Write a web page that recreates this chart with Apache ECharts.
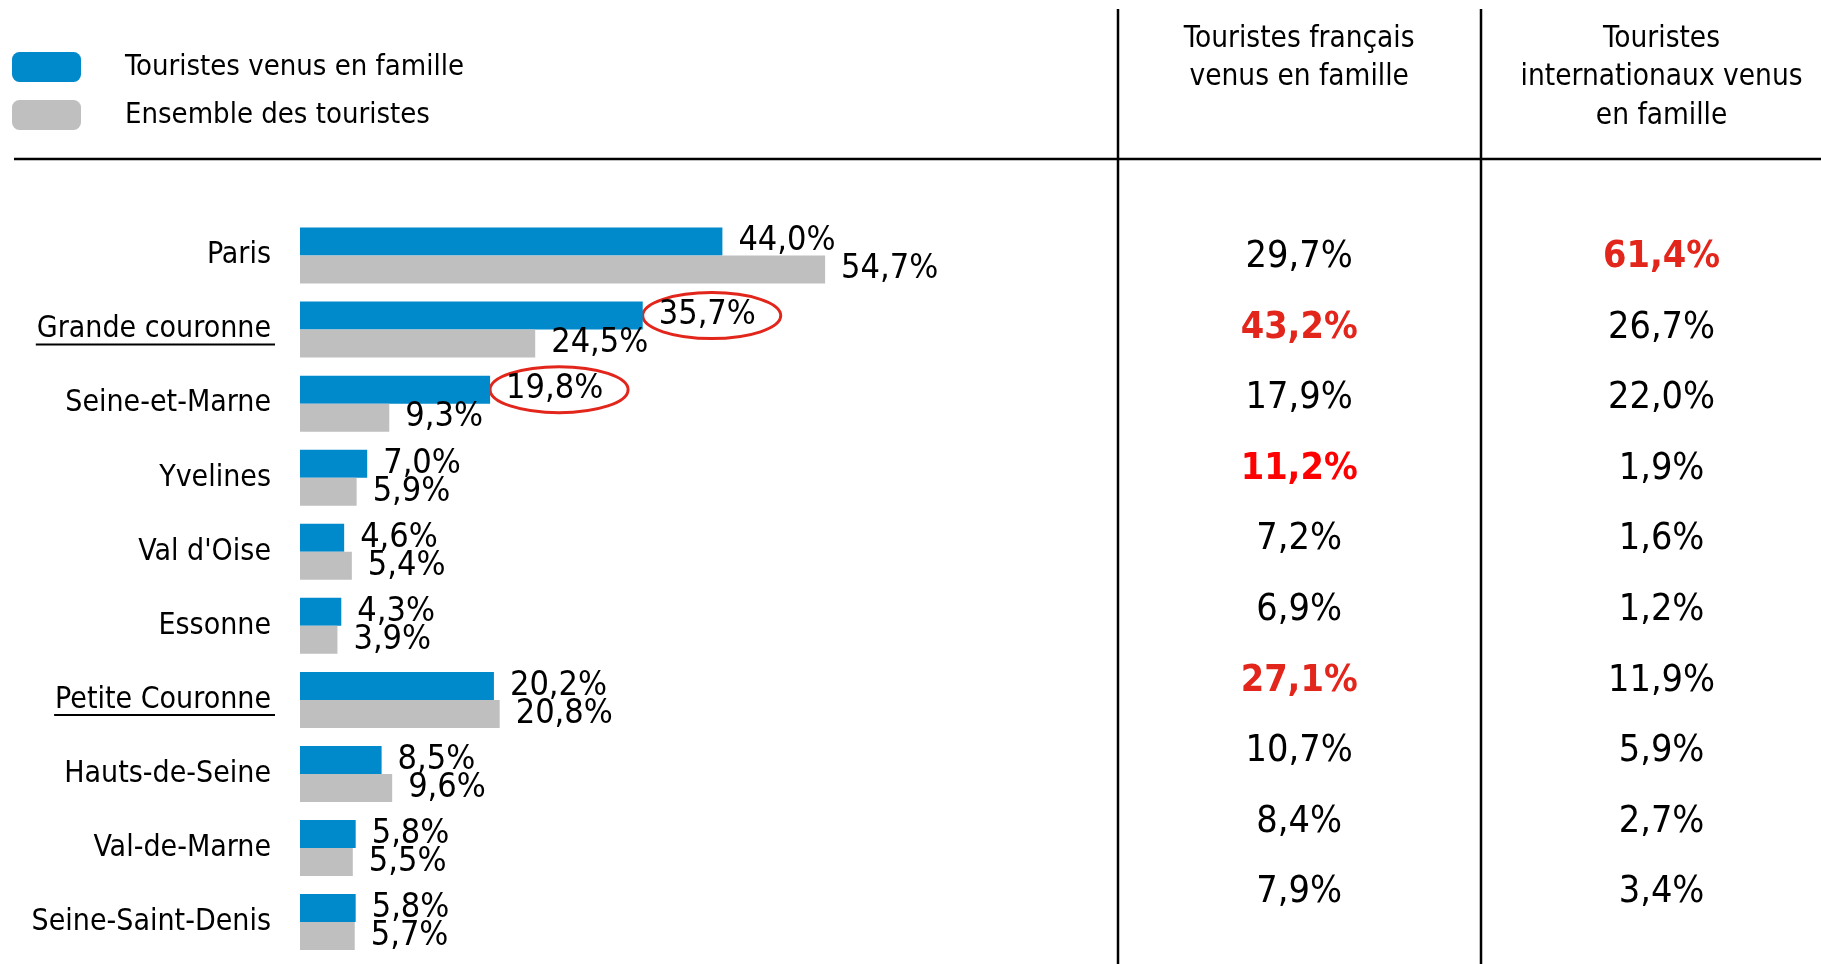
<!DOCTYPE html>
<html>
<head>
<meta charset="utf-8">
<script src="https://cdn.jsdelivr.net/npm/echarts@6/dist/echarts.min.js"></script>
<style>
  html, body { margin: 0; padding: 0; background: #fff; }
  #main { width: 1821px; height: 964px; }
</style>
</head>
<body>
<div id="main"></div>
<script>
// données
var categories = ['Paris', 'Grande couronne', 'Seine-et-Marne', 'Yvelines', "Val d'Oise", 'Essonne', 'Petite Couronne', 'Hauts-de-Seine', 'Val-de-Marne', 'Seine-Saint-Denis'];
var famille = [44.0, 35.7, 19.8, 7.0, 4.6, 4.3, 20.2, 8.5, 5.8, 5.8];
var ensemble = [54.7, 24.5, 9.3, 5.9, 5.4, 3.9, 20.8, 9.6, 5.5, 5.7];
var francais = [29.7, 43.2, 17.9, 11.2, 7.2, 6.9, 27.1, 10.7, 8.4, 7.9];
var internationaux = [61.4, 26.7, 22.0, 1.9, 1.6, 1.2, 11.9, 5.9, 2.7, 3.4];
var columns = ['Touristes français\nvenus en famille', 'Touristes\ninternationaux venus\nen famille'];
var seriesNames = ['Touristes venus en famille', 'Ensemble des touristes'];
var underlined = [1, 6];   // sous-totaux soulignés
var circled = [1, 2];      // valeurs entourées en rouge
var redFr = [1, 3, 6];
var redIntl = [0];

var FONT = "'DejaVu Sans Condensed', 'Liberation Sans Narrow', 'DejaVu Sans', sans-serif";
var BLUE = '#0089cb';
var GREY = '#bfbfbf';
var RED = '#e2261b';

function pct(v) {
  return v.toFixed(1).replace('.', ',') + '%';
}

function cell(col, values, reds) {
  return values.map(function (v, i) {
    var hot = reds.indexOf(i) >= 0;
    return {
      value: [col, i, v],
      label: {
        color: hot ? (col === 0 && i === 3 ? '#ff0000' : RED) : '#000',
        fontWeight: hot ? 'bold' : 'normal'
      }
    };
  });
}

var chart = echarts.init(document.getElementById('main'));

var option = {
  animation: false,
  textStyle: { fontFamily: FONT },
  legend: {
    data: seriesNames,
    orient: 'vertical',
    left: 12,
    top: 52,
    padding: 0,
    icon: 'roundRect',
    itemWidth: 69,
    itemHeight: 30,
    itemGap: 18,
    textStyle: { fontSize: 29, color: '#000', padding: [0, 0, 0, 39], fontFamily: FONT }
  },
  grid: [
    { left: 300, top: 218.5, width: 960, height: 740.6 },
    { left: 1118, right: 0, top: 222, height: 706 }
  ],
  xAxis: [
    { type: 'value', gridIndex: 0, min: 0, max: 100, show: false },
    {
      // colonnes du tableau : 0 = français, 1 = internationaux
      type: 'value', gridIndex: 1, min: -0.5, max: 1.44, position: 'top',
      axisLine: { show: false }, axisTick: { show: false }, splitLine: { show: false },
      axisLabel: {
        customValues: [0, 1],
        formatter: function (v) { return columns[Math.round(v)]; },
        fontSize: 29.5, lineHeight: 38.5, color: '#000',
        verticalAlign: 'top', margin: 202, fontFamily: FONT
      }
    }
  ],
  yAxis: [
    {
      type: 'category', gridIndex: 0, data: categories, inverse: true,
      axisLine: { show: false }, axisTick: { show: false },
      axisLabel: { fontSize: 30, color: '#000', margin: 29, fontFamily: FONT }
    },
    { type: 'category', gridIndex: 1, data: categories, inverse: true, show: false }
  ],
  series: [
    {
      name: seriesNames[0], type: 'bar', xAxisIndex: 0, yAxisIndex: 0,
      data: famille, barWidth: 28, barGap: '0%',
      itemStyle: { color: BLUE },
      label: {
        show: true, position: 'right', distance: 16, fontSize: 34, color: '#000', fontFamily: FONT,
        formatter: function (p) { return pct(p.value); }
      }
    },
    {
      name: seriesNames[1], type: 'bar', xAxisIndex: 0, yAxisIndex: 0,
      data: ensemble, barWidth: 28, barGap: '0%',
      itemStyle: { color: GREY },
      label: {
        show: true, position: 'right', distance: 16, fontSize: 34, color: '#000', fontFamily: FONT,
        formatter: function (p) { return pct(p.value); }
      }
    },
    {
      type: 'scatter', xAxisIndex: 1, yAxisIndex: 1,
      symbolSize: 1, itemStyle: { color: 'rgba(0,0,0,0)', opacity: 1 },
      data: cell(0, francais, redFr).concat(cell(1, internationaux, redIntl)),
      label: {
        show: true, position: 'inside', fontSize: 37.5, fontFamily: FONT,
        textBorderWidth: 0,
        formatter: function (p) { return pct(p.value[2]); }
      }
    }
  ]
};

chart.setOption(option);

// traits du tableau, soulignements et ellipses rouges
var g = [];
g.push({ type: 'line', shape: { x1: 14, y1: 159, x2: 1821, y2: 159 }, style: { stroke: '#000', lineWidth: 2.5 } });
g.push({ type: 'line', shape: { x1: 1118, y1: 9, x2: 1118, y2: 964 }, style: { stroke: '#000', lineWidth: 2.5 } });
g.push({ type: 'line', shape: { x1: 1481, y1: 9, x2: 1481, y2: 964 }, style: { stroke: '#000', lineWidth: 2.5 } });

var ctx = document.createElement('canvas').getContext('2d');
ctx.font = '30px ' + FONT;
underlined.forEach(function (i) {
  var p = chart.convertToPixel({ seriesIndex: 0 }, [0, i]);
  var right = p[0] - 29;
  var w = ctx.measureText(categories[i]).width;
  g.push({
    type: 'line',
    shape: { x1: right - w - 1, y1: p[1] + 15, x2: right + 4, y2: p[1] + 15 },
    style: { stroke: '#000', lineWidth: 2 }
  });
});

circled.forEach(function (i) {
  var p = chart.convertToPixel({ seriesIndex: 0 }, [famille[i], i]);
  g.push({
    type: 'ellipse',
    shape: { cx: p[0] + 69, cy: p[1] - 14, rx: 69, ry: 23 },
    style: { fill: 'none', stroke: RED, lineWidth: 3 }
  });
});

chart.setOption({ graphic: g });
</script>
</body>
</html>
